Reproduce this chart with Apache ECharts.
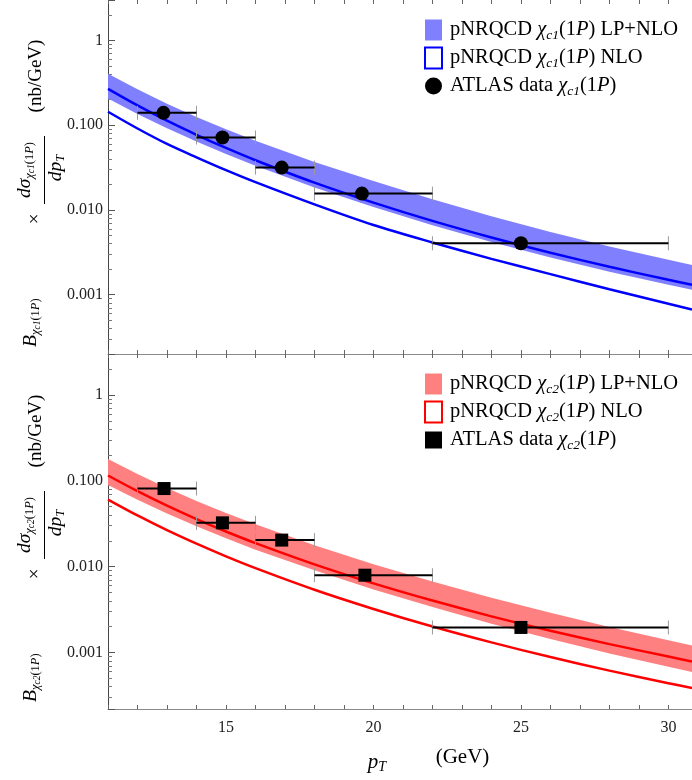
<!DOCTYPE html>
<html>
<head>
<meta charset="utf-8">
<script src="https://cdn.jsdelivr.net/npm/echarts@6/dist/echarts.min.js"></script>
<style>
html,body{margin:0;padding:0;background:#ffffff;}
#chart{width:692px;height:780px;}
</style>
</head>
<body>
<div id="chart"></div>
<script>
// ---------------- data ----------------
const ptGrid = [11, 12, 13, 14, 15, 16, 18, 20, 22, 24, 26, 28, 30, 30.8];

// chi_c1(1P) panel
const c1LpNloCentral = [0.268, 0.171, 0.113, 0.0771, 0.0539, 0.0386, 0.0210, 0.0122, 0.00744, 0.00474, 0.00313, 0.00214, 0.00150, 0.00131];
const c1LpNloHigh    = [0.406, 0.265, 0.179, 0.125, 0.0895, 0.0655, 0.0369, 0.0219, 0.01338, 0.00843, 0.00550, 0.00372, 0.00258, 0.00225];
const c1LpNloLow     = [0.206, 0.1358, 0.0923, 0.0644, 0.0459, 0.0333, 0.01845, 0.01083, 0.0066, 0.00419, 0.00275, 0.00187, 0.00131, 0.001143];
const c1Nlo          = [0.144, 0.0914, 0.0601, 0.0418, 0.0295, 0.0213, 0.01165, 0.00665, 0.00414, 0.00265, 0.00175, 0.00116, 0.000784, 0.000667];

const c1DataPt   = [12.88, 14.88, 16.89, 19.61, 25.0];
const c1DataVal  = [0.140, 0.0716, 0.0316, 0.0156, 0.00405];
const c1BinLow   = [12, 14, 16, 18, 22];
const c1BinHigh  = [14, 16, 18, 22, 30];

// chi_c2(1P) panel
const c2LpNloCentral = [0.1153, 0.0757, 0.0514, 0.0359, 0.0257, 0.0188, 0.01064, 0.00639, 0.00403, 0.00264, 0.001794, 0.001253, 0.000898, 0.000788];
const c2LpNloHigh    = [0.180, 0.120, 0.0824, 0.0582, 0.0422, 0.0312, 0.01778, 0.01068, 0.00672, 0.00436, 0.00291, 0.001986, 0.001391, 0.00121];
const c2LpNloLow     = [0.0897, 0.0601, 0.0416, 0.0295, 0.0214, 0.01579, 0.00906, 0.00544, 0.00339, 0.00217, 0.001441, 0.000977, 0.000681, 0.000592];
const c2Nlo          = [0.0605, 0.0395, 0.02664, 0.01853, 0.01320, 0.00962, 0.00539, 0.00322, 0.00201, 0.001313, 0.000886, 0.000616, 0.000440, 0.000385];

const c2DataPt   = [12.9, 14.88, 16.89, 19.71, 25.0];
const c2DataVal  = [0.0813, 0.0324, 0.0204, 0.00796, 0.00196];
const c2BinLow   = [12, 14, 16, 18, 22];
const c2BinHigh  = [14, 16, 18, 22, 30];

// tick labels
const xTickValues = [15, 20, 25, 30];
const xTickLabels = ['15', '20', '25', '30'];
const yTickValues = [0.001, 0.01, 0.1, 1];
const yTickLabels = ['0.001', '0.010', '0.100', '1'];

// legend / series names
const N1band = 'pNRQCD χc1(1P) LP+NLO';
const N1nlo  = 'pNRQCD χc1(1P) NLO';
const N1data = 'ATLAS data χc1(1P)';
const N2band = 'pNRQCD χc2(1P) LP+NLO';
const N2nlo  = 'pNRQCD χc2(1P) NLO';
const N2data = 'ATLAS data χc2(1P)';

// ---------------- styling / building ----------------
const SERIF = '"Liberation Serif", "DejaVu Serif", serif';
const BLUE = '#0000ff', BLUE_BAND = '#8080ff';
const RED = '#ff0000', RED_BAND = '#ff8080';

function xFmt(v) {
  for (let i = 0; i < xTickValues.length; i++) if (Math.abs(v - xTickValues[i]) < 1e-6) return xTickLabels[i];
  return '';
}
function yFmt(v) {
  for (let i = 0; i < yTickValues.length; i++) if (Math.abs(v / yTickValues[i] - 1) < 1e-6) return yTickLabels[i];
  return '';
}

function mkX(gi, pos, showLabel, showLine) {
  return {
    type: 'value', gridIndex: gi, position: pos, min: 11, max: 30.8, interval: 1,
    axisLine: { show: showLine, onZero: false, lineStyle: { color: '#8a8a8a', width: 1 } },
    axisTick: { show: true, inside: true, length: 4, lineStyle: { color: '#666' } },
    axisLabel: { show: showLabel, margin: 11, fontFamily: SERIF, fontSize: 16, color: '#222', formatter: xFmt },
    splitLine: { show: false }
  };
}
function mkY(gi, min, max) {
  return {
    type: 'log', logBase: 10, gridIndex: gi, min: min, max: max,
    axisLine: { show: true, onZero: false, lineStyle: { color: '#444', width: 1 } },
    axisTick: { show: true, inside: true, length: 7, lineStyle: { color: '#555' } },
    minorTick: { show: true, splitNumber: 9, length: 4, lineStyle: { color: '#777' } },
    axisLabel: { margin: 5, fontFamily: SERIF, fontSize: 16, color: '#222', formatter: yFmt },
    splitLine: { show: false }, minorSplitLine: { show: false }
  };
}

function bandSeries(name, xi, yi, low, high, color) {
  return {
    type: 'custom', name: name, xAxisIndex: xi, yAxisIndex: yi, z: 2, silent: true, clip: true,
    itemStyle: { color: color },
    data: ptGrid.map((x, i) => [x, low[i], high[i]]),
    encode: { x: 0, y: [1, 2] },
    renderItem: function (params, api) {
      if (params.dataIndex !== 0) return { type: 'group', children: [] };
      const pts = [];
      for (let i = 0; i < ptGrid.length; i++) pts.push(api.coord([ptGrid[i], high[i]]));
      for (let i = ptGrid.length - 1; i >= 0; i--) pts.push(api.coord([ptGrid[i], low[i]]));
      return { type: 'polygon', shape: { points: pts }, style: { fill: color } };
    }
  };
}
function curve(name, xi, yi, vals, color) {
  return {
    type: 'line', name: name, xAxisIndex: xi, yAxisIndex: yi, z: 3, silent: true,
    data: ptGrid.map((x, i) => [x, vals[i]]),
    showSymbol: false, symbol: 'none', smooth: 0.3,
    lineStyle: { color: color, width: 2.5 }, itemStyle: { color: color }
  };
}
function errBars(xi, yi, pts, vals, lo, hi) {
  return {
    type: 'custom', xAxisIndex: xi, yAxisIndex: yi, z: 4, silent: true, clip: true,
    data: pts.map((p, i) => [p, vals[i], lo[i], hi[i]]),
    encode: { x: [0, 2, 3], y: 1 },
    renderItem: function (params, api) {
      const y = api.value(1);
      const a = api.coord([api.value(2), y]);
      const b = api.coord([api.value(3), y]);
      return {
        type: 'group', children: [
          { type: 'line', shape: { x1: a[0], y1: a[1] - 7, x2: a[0], y2: a[1] + 7 }, style: { stroke: '#9a9a9a', lineWidth: 1 } },
          { type: 'line', shape: { x1: b[0], y1: b[1] - 7, x2: b[0], y2: b[1] + 7 }, style: { stroke: '#9a9a9a', lineWidth: 1 } },
          { type: 'line', shape: { x1: a[0], y1: a[1], x2: b[0], y2: b[1] }, style: { stroke: '#000', lineWidth: 2 } }
        ]
      };
    }
  };
}
function points(name, xi, yi, pts, vals, symbol, size) {
  return {
    type: 'scatter', name: name, xAxisIndex: xi, yAxisIndex: yi, z: 5, silent: true,
    data: pts.map((p, i) => [p, vals[i]]), symbol: symbol, symbolSize: size,
    itemStyle: { color: '#000', opacity: 1 }
  };
}

const legendRich = {
  i: { fontFamily: SERIF, fontStyle: 'italic', fontSize: 20.5, lineHeight: 24, color: '#000' },
  s: { fontFamily: SERIF, fontStyle: 'italic', fontSize: 13.5, lineHeight: 13, verticalAlign: 'bottom', color: '#000' }
};
function legendText(name) {
  const m = {};
  m[N1band] = 'pNRQCD {i|χ}{s|c1}(1{i|P}) LP+NLO';
  m[N1nlo]  = 'pNRQCD {i|χ}{s|c1}(1{i|P}) NLO';
  m[N1data] = 'ATLAS data {i|χ}{s|c1}(1{i|P})';
  m[N2band] = 'pNRQCD {i|χ}{s|c2}(1{i|P}) LP+NLO';
  m[N2nlo]  = 'pNRQCD {i|χ}{s|c2}(1{i|P}) NLO';
  m[N2data] = 'ATLAS data {i|χ}{s|c2}(1{i|P})';
  return m[name] || name;
}
function mkLegend(top, names, bandColor, lineColor, dataIcon) {
  return {
    orient: 'vertical', left: 424, top: top, itemWidth: 17, itemHeight: 21, itemGap: 4,
    selectedMode: false, padding: 0,
    textStyle: { fontFamily: SERIF, fontSize: 20.5, lineHeight: 24, color: '#000', padding: [0, 0, 0, 3], rich: legendRich },
    formatter: legendText,
    data: [
      { name: names[0], icon: 'rect', itemStyle: { color: bandColor, borderWidth: 0, opacity: 1 } },
      { name: names[1], icon: 'rect', itemStyle: { color: '#ffffff', borderColor: lineColor, borderWidth: 2, opacity: 1 } },
      { name: names[2], icon: dataIcon, itemStyle: { color: '#000', borderWidth: 0, opacity: 1 } }
    ]
  };
}

const titleRich = {
  i: { fontFamily: SERIF, fontStyle: 'italic', fontSize: 19.5, lineHeight: 22, fill: '#000' },
  r: { fontFamily: SERIF, fontSize: 19, lineHeight: 22, fill: '#000' },
  s: { fontFamily: SERIF, fontStyle: 'italic', fontSize: 12.5, lineHeight: 12, verticalAlign: 'bottom', fill: '#000' },
  u: { fontFamily: SERIF, fontSize: 12.5, lineHeight: 12, verticalAlign: 'bottom', fill: '#000' },
  t: { fontFamily: SERIF, fontStyle: 'italic', fontSize: 9.5, lineHeight: 10, verticalAlign: 'bottom', fill: '#000' }
};
function yTitle(originY, k) {
  const sub = '{s|χ}{t|c' + k + '}{u|(1}{s|P}{u|)}';
  const st = (text, align) => ({ text: text, rich: titleRich, align: align, verticalAlign: 'middle', fill: '#000' });
  return {
    type: 'group', x: 0, y: originY, rotation: Math.PI / 2, silent: true,
    children: [
      { type: 'text', x: 8, y: 31, style: st('{i|B}' + sub, 'left') },
      { type: 'text', x: 136, y: 35, style: st('{r|×}', 'center') },
      { type: 'text', x: 185, y: 25, style: st('{i|dσ}' + sub, 'center') },
      { type: 'line', shape: { x1: 151, y1: 44.5, x2: 219, y2: 44.5 }, style: { stroke: '#000', lineWidth: 1 } },
      { type: 'text', x: 187, y: 56, style: st('{i|dp}{s|T}', 'center') },
      { type: 'text', x: 279, y: 36, style: st('{r|(nb/GeV)}', 'center') }
    ]
  };
}
const xRich = {
  i: { fontFamily: SERIF, fontStyle: 'italic', fontSize: 21, lineHeight: 24, fill: '#000' },
  s: { fontFamily: SERIF, fontStyle: 'italic', fontSize: 14, lineHeight: 14, verticalAlign: 'bottom', fill: '#000' },
  r: { fontFamily: SERIF, fontSize: 21, lineHeight: 24, fill: '#000' }
};

const option = {
  animation: false,
  backgroundColor: '#ffffff',
  grid: [
    { left: 108, right: 0, top: 0, height: 354, outerBoundsMode: 'none' },
    { left: 108, right: 0, top: 354, height: 355, outerBoundsMode: 'none' }
  ],
  xAxis: [mkX(0, 'bottom', false, true), mkX(0, 'top', false, false), mkX(1, 'bottom', true, true), mkX(1, 'top', false, false)],
  yAxis: [mkY(0, 0.0002, 3), mkY(1, 0.00022, 3)],
  legend: [
    mkLegend(18, [N1band, N1nlo, N1data], BLUE_BAND, BLUE, 'circle'),
    mkLegend(372, [N2band, N2nlo, N2data], RED_BAND, RED, 'path://M0,0H17V17H0Z')
  ],
  graphic: [
    yTitle(355, 1),
    yTitle(710, 2),
    { type: 'text', x: 377, y: 762, silent: true, style: { text: '{i|p}{s|T}', rich: xRich, align: 'center', verticalAlign: 'middle' } },
    { type: 'text', x: 462.5, y: 757.5, silent: true, style: { text: '{r|(GeV)}', rich: xRich, align: 'center', verticalAlign: 'middle' } }
  ],
  series: [
    bandSeries(N1band, 0, 0, c1LpNloLow, c1LpNloHigh, BLUE_BAND),
    curve('χc1 LP+NLO central', 0, 0, c1LpNloCentral, BLUE),
    curve(N1nlo, 0, 0, c1Nlo, BLUE),
    errBars(0, 0, c1DataPt, c1DataVal, c1BinLow, c1BinHigh),
    points(N1data, 0, 0, c1DataPt, c1DataVal, 'circle', 14),

    bandSeries(N2band, 2, 1, c2LpNloLow, c2LpNloHigh, RED_BAND),
    curve('χc2 LP+NLO central', 2, 1, c2LpNloCentral, RED),
    curve(N2nlo, 2, 1, c2Nlo, RED),
    errBars(2, 1, c2DataPt, c2DataVal, c2BinLow, c2BinHigh),
    points(N2data, 2, 1, c2DataPt, c2DataVal, 'rect', 13)
  ]
};

const chart = echarts.init(document.getElementById('chart'), null, { renderer: 'canvas' });
chart.setOption(option);
</script>
</body>
</html>
